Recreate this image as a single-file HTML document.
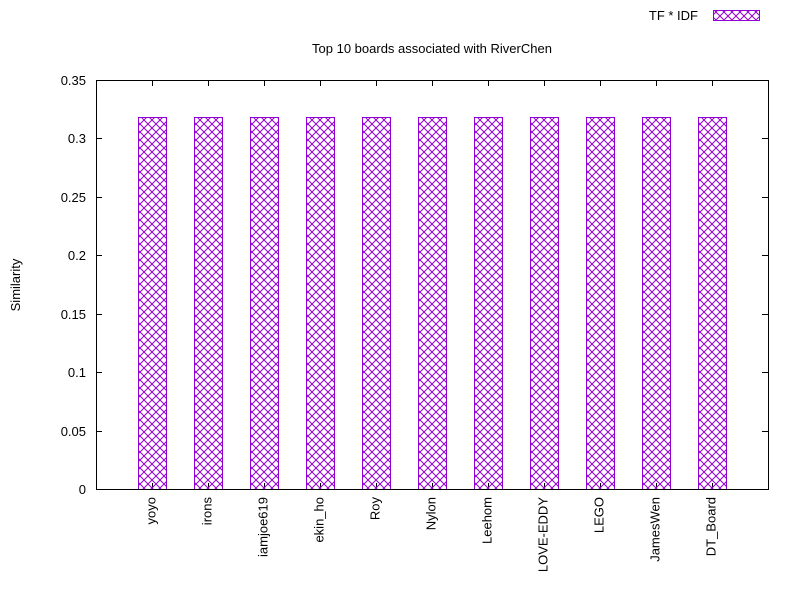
<!DOCTYPE html>
<html><head><meta charset="utf-8"><style>
body{margin:0;background:#fff}
text{font-family:"Liberation Sans",sans-serif;font-size:13px;fill:#000}
</style></head><body>
<svg id="chart" width="800" height="600" xmlns="http://www.w3.org/2000/svg">
<defs>
<pattern id="hatch" patternUnits="userSpaceOnUse" width="8" height="8">
<path d="M0,0 L8,8 M8,0 L0,8" stroke="#9400d3" stroke-width="1"/>
</pattern>
</defs>
<text x="432" y="53" text-anchor="middle">Top 10 boards associated with RiverChen</text>
<text transform="translate(20,285) rotate(-90)" text-anchor="middle">Similarity</text>
<g>
<text x="698" y="20" text-anchor="end">TF * IDF</text>
<rect x="713.5" y="10.5" width="46" height="10" fill="url(#hatch)" stroke="#9400d3"/>
</g>
<g id="axes"></g>
<g id="bars"></g>
<rect x="96.5" y="80.5" width="672" height="409" fill="none" stroke="#000"/>
</svg>
<script>
const categories=["yoyo","irons","iamjoe619","ekin_ho","Roy","Nylon","Leehom","LOVE-EDDY","LEGO","JamesWen","DT_Board"];
const values=[0.318,0.318,0.318,0.318,0.318,0.318,0.318,0.318,0.318,0.318,0.318];
const yTicks=[0,0.05,0.1,0.15,0.2,0.25,0.3,0.35];
const yTickLabels=["0","0.05","0.1","0.15","0.2","0.25","0.3","0.35"];
const L=96,R=768,T=80,B=489,yMax=0.35;
const ns="http://www.w3.org/2000/svg";
function xs(i){return L+(R-L)/(categories.length+1)*(i+1);}
function ys(v){return B-(B-T)*v/yMax;}
function mk(t,a,p){const e=document.createElementNS(ns,t);for(const k in a)e.setAttribute(k,a[k]);p.appendChild(e);return e;}
const ax=document.getElementById('axes'),bg=document.getElementById('bars');
yTicks.forEach((v,i)=>{const y=Math.round(ys(v))+0.5;
const l=mk('path',{d:`M${L},${y}h6M${R},${y}h-6`,stroke:'#000'},ax);


const t=mk('text',{x:L-10,y:y+4.5,'text-anchor':'end'},ax);t.textContent=yTickLabels[i];

});
categories.forEach((c,i)=>{const x=Math.round(xs(i))+0.5;
const l=mk('path',{d:`M${x},${B}v-6M${x},${T}v6`,stroke:'#000'},ax);


const t=mk('text',{transform:`translate(${x+3},${B+8}) rotate(-90)`,'text-anchor':'end'},ax);t.textContent=c;


const w=29,y=ys(values[i]);
const r=mk('rect',{x:Math.round(xs(i)-w/2)+0.5,y:Math.round(y)+0.5,width:w-1,height:B-Math.round(y),fill:'url(#hatch)',stroke:'#9400d3'},bg);

});
</script>
</body></html>
